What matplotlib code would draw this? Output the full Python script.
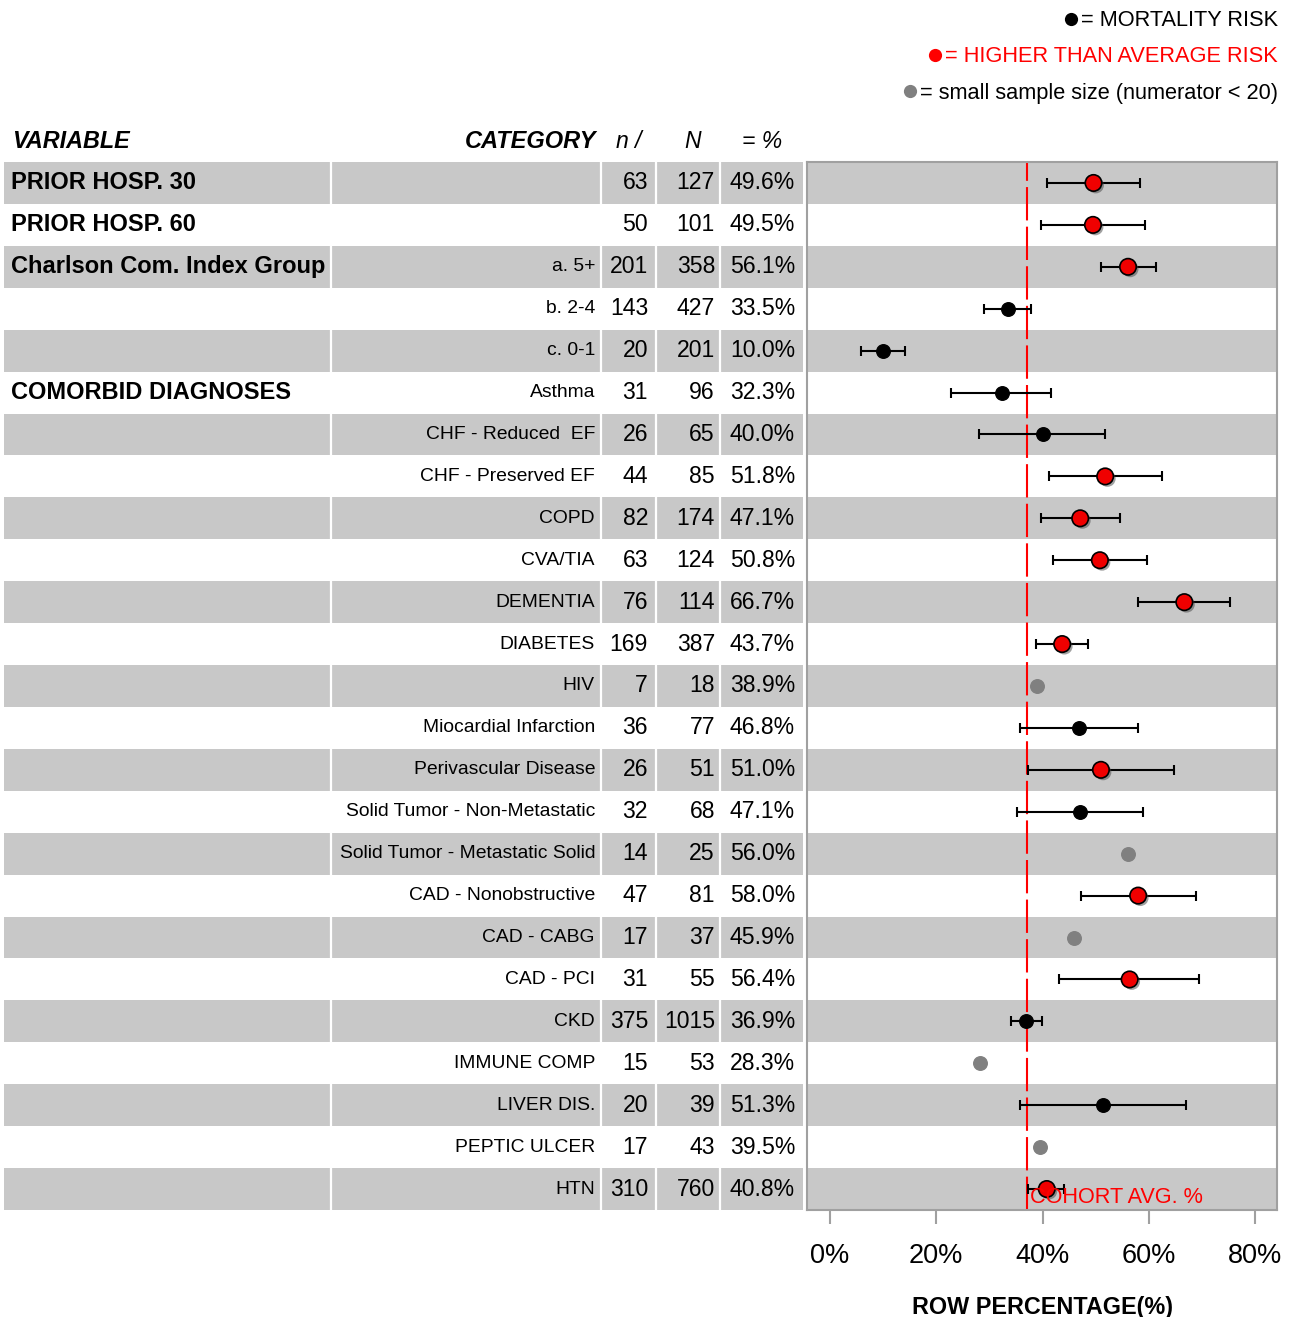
import matplotlib
matplotlib.use("Agg")
import matplotlib.pyplot as plt
import matplotlib.patheffects as pe
from matplotlib.lines import Line2D
from matplotlib.ticker import FuncFormatter

plt.rcParams['font.family'] = ['Liberation Sans', 'DejaVu Sans']

# ---------------- data ----------------
variables = ["PRIOR HOSP. 30", "PRIOR HOSP. 60", "Charlson Com. Index Group", "", "",
             "COMORBID DIAGNOSES", "", "", "", "", "", "", "", "", "", "", "", "", "", "",
             "", "", "", "", ""]
categories = ["", "", "a. 5+", "b. 2-4", "c. 0-1", "Asthma", "CHF - Reduced  EF",
              "CHF - Preserved EF", "COPD", "CVA/TIA", "DEMENTIA", "DIABETES", "HIV",
              "Miocardial Infarction", "Perivascular Disease", "Solid Tumor - Non-Metastatic",
              "Solid Tumor - Metastatic Solid", "CAD - Nonobstructive", "CAD - CABG",
              "CAD - PCI", "CKD", "IMMUNE COMP", "LIVER DIS.", "PEPTIC ULCER", "HTN"]
n_vals = [63, 50, 201, 143, 20, 31, 26, 44, 82, 63, 76, 169, 7, 36, 26, 32, 14, 47, 17,
          31, 375, 15, 20, 17, 310]
N_vals = [127, 101, 358, 427, 201, 96, 65, 85, 174, 124, 114, 387, 18, 77, 51, 68, 25,
          81, 37, 55, 1015, 53, 39, 43, 760]
pct = [49.6, 49.5, 56.1, 33.5, 10.0, 32.3, 40.0, 51.8, 47.1, 50.8, 66.7, 43.7, 38.9,
       46.8, 51.0, 47.1, 56.0, 58.0, 45.9, 56.4, 36.9, 28.3, 51.3, 39.5, 40.8]
ci_low = [40.9, 39.7, 51.0, 29.0, 5.8, 22.8, 28.1, 41.2, 39.7, 42.0, 58.0, 38.8, None,
          35.8, 37.3, 35.2, None, 47.3, None, 43.1, 34.1, None, 35.8, None, 37.3]
ci_high = [58.4, 59.3, 61.4, 37.9, 14.1, 41.6, 51.8, 62.5, 54.6, 59.7, 75.3, 48.6, None,
           58.0, 64.8, 58.9, None, 68.9, None, 69.5, 39.9, None, 67.0, None, 44.1]
status = ["red", "red", "red", "black", "black", "black", "black", "red", "red", "red",
          "red", "red", "gray", "black", "red", "black", "gray", "red", "gray", "red",
          "black", "gray", "black", "gray", "red"]
cohort_avg = 37.1
x_ticks = [0, 20, 40, 60, 80]
legend_labels = ["= MORTALITY RISK", "= HIGHER THAN AVERAGE RISK",
                 "= small sample size (numerator < 20)"]
legend_text_colors = ["black", "#FF0000", "black"]
legend_dot_colors = ["black", "#FF0000", "#808080"]

# ---------------- figure ----------------
W, H = 1292, 1317
fig = plt.figure(figsize=(W / 100, H / 100), dpi=100)

band_top, band_bot = 162, 1210
ax_bottom = 1 - band_bot / H
ax_height = (band_bot - band_top) / H
nrows = len(categories)
GRAY = "#C8C8C8"

# table axes (x in pixels)
tab = fig.add_axes([0, ax_bottom, 803 / W, ax_height])
tab.set_xlim(0, 803)
tab.set_ylim(nrows - 0.5, -0.5)
tab.axis("off")

# plot axes
px_per_pct = 5.3125
x0_px = 830
pl = fig.add_axes([807 / W, ax_bottom, (1277 - 807) / W, ax_height])
pl.set_xlim((807 - x0_px) / px_per_pct, (1277 - x0_px) / px_per_pct)
pl.set_ylim(nrows - 0.5, -0.5)

for i in range(nrows):
    if i % 2 == 0:
        tab.fill_between([4, 803], i - 0.5, i + 0.5, color=GRAY, lw=0, zorder=0)
        pl.axhspan(i - 0.5, i + 0.5, color=GRAY, lw=0, zorder=0)

for xs in [331, 601, 656, 720]:
    tab.plot([xs, xs], [-0.5, nrows - 0.5], color="white", lw=1.6, zorder=1)

# table text
for i in range(nrows):
    if variables[i]:
        tab.text(11, i, variables[i], ha="left", va="center", fontsize=17,
                 fontweight="bold", zorder=3)
    if categories[i]:
        tab.text(595, i, categories[i], ha="right", va="center", fontsize=13.9, zorder=3)
    tab.text(648, i, str(n_vals[i]), ha="right", va="center", fontsize=16.6, zorder=3)
    tab.text(715, i, str(N_vals[i]), ha="right", va="center", fontsize=16.6, zorder=3)
    tab.text(795, i, f"{pct[i]:.1f}%", ha="right", va="center", fontsize=16.6, zorder=3)

# header
hy = -0.98
tab.text(12, hy, "VARIABLE", ha="left", va="center", fontsize=16.8, fontweight="bold",
         style="italic", clip_on=False)
tab.text(596, hy, "CATEGORY", ha="right", va="center", fontsize=17, fontweight="bold",
         style="italic", clip_on=False)
tab.text(616, hy, "n /", ha="left", va="center", fontsize=16.6, style="italic", clip_on=False)
tab.text(693, hy, "N", ha="center", va="center", fontsize=16.6, style="italic", clip_on=False)
tab.text(742, hy, "= %", ha="left", va="center", fontsize=16.6, style="italic", clip_on=False)

# cohort average line
pl.axvline(cohort_avg, color="#FF0000", lw=1.5, linestyle=(0, (16, 3)), zorder=2)

# error bars and points
shadow = [pe.SimplePatchShadow(offset=(1.6, -1.6), shadow_rgbFace="#444444", alpha=0.5),
          pe.Normal()]
for i in range(nrows):
    if ci_low[i] is not None:
        pl.errorbar(pct[i], i, xerr=[[pct[i] - ci_low[i]], [ci_high[i] - pct[i]]],
                    fmt="none", ecolor="black", elinewidth=1.5, capsize=3.6,
                    capthick=1.5, zorder=3)
    if status[i] == "red":
        pl.scatter([pct[i]], [i], s=140, color="#F00000", edgecolor="black",
                   linewidth=1.2, zorder=4, path_effects=shadow)
    elif status[i] == "black":
        pl.scatter([pct[i]], [i], s=95, color="black", zorder=4)
    else:
        pl.scatter([pct[i]], [i], s=95, color="#808080", zorder=4)

pl.text(cohort_avg + 0.5, nrows - 1 + 0.2, "COHORT AVG. %", color="#FF0000",
        fontsize=15.6, ha="left", va="center", zorder=5)

# axes styling
for sp in pl.spines.values():
    sp.set_color("#A0A0A0")
    sp.set_linewidth(1.5)
pl.set_yticks([])
pl.set_xticks(x_ticks)
pl.xaxis.set_major_formatter(FuncFormatter(lambda v, p: f"{v:.0f}%"))
pl.tick_params(axis="x", colors="#A0A0A0", width=1.5, length=10, pad=14,
               labelsize=19.5, labelcolor="black")
pl.set_xlabel("ROW PERCENTAGE(%)", fontsize=16.8, fontweight="bold", labelpad=19)

# legend (top right)
fig.canvas.draw()
renderer = fig.canvas.get_renderer()
legend_y_px = [21, 57, 93]
for lab, tc, dc, ypx in zip(legend_labels, legend_text_colors, legend_dot_colors,
                            legend_y_px):
    t = fig.text(1278 / W, 1 - ypx / H, lab, ha="right", va="center", fontsize=15.7,
                 color=tc)
    bb = t.get_window_extent(renderer=renderer)
    dot_x = (bb.x0 - 10) / W
    fig.add_artist(Line2D([dot_x], [1 - (ypx - 2) / H], marker="o", markersize=9.5,
                          color=dc, markeredgewidth=0, transform=fig.transFigure))

fig.savefig("out.png", dpi=100)
